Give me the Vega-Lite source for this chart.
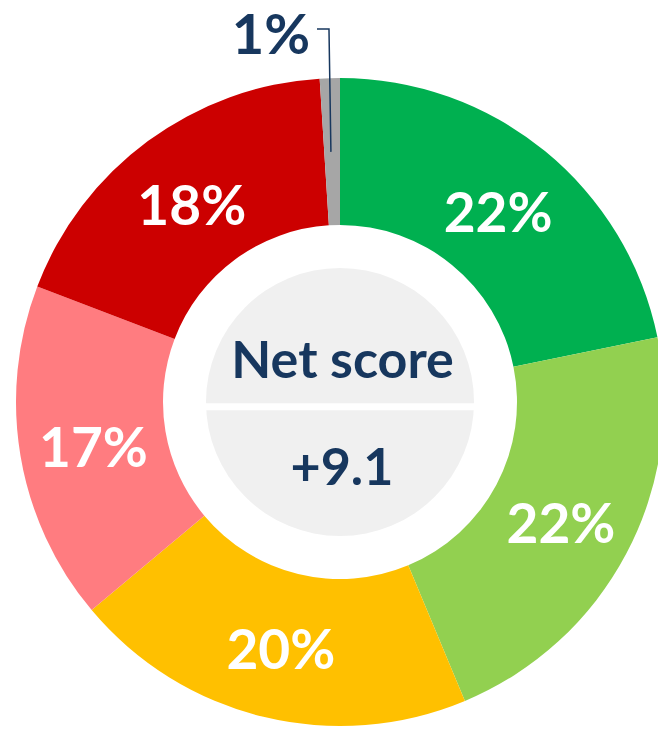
{
  "$schema": "https://vega.github.io/schema/vega-lite/v6.json",
  "autosize": "none",
  "width": 636,
  "height": 660,
  "padding": {"left": 22, "top": 72, "right": 0, "bottom": 0},
  "background": "white",
  "config": {"view": {"stroke": null}},
  "datasets": {
    "slices": [
      {"cat": "Very positive", "value": 21.8, "label": "22%", "ord": 1},
      {"cat": "Positive", "value": 21.9, "label": "22%", "ord": 2},
      {"cat": "Neutral", "value": 20.2, "label": "20%", "ord": 3},
      {"cat": "Negative", "value": 16.9, "label": "17%", "ord": 4},
      {"cat": "Very negative", "value": 18.2, "label": "18%", "ord": 5},
      {"cat": "Don't know", "value": 1.0, "label": "1%", "ord": 6}
    ],
    "leader": [
      {"x": -0.071, "y": 1.151, "o": 1},
      {"x": -0.034, "y": 1.151, "o": 2},
      {"x": -0.028, "y": 0.772, "o": 3}
    ],
    "center": [{"x": 0, "y": 0}],
    "divider": [{"x": -0.414, "x2": 0.414, "y": -0.015}],
    "texts": [
      {"x": 0.008, "y": 0.074, "text": "Net score"},
      {"x": 0.006, "y": -0.256, "text": "+9.1"}
    ],
    "toplabel": [
      {"x": -0.213, "y": 1.074, "text": "1%"}
    ]
  },
  "layer": [
    {
      "data": {"name": "slices"},
      "mark": {"type": "arc", "innerRadius": 177, "outerRadius": 324},
      "encoding": {
        "theta": {"field": "value", "type": "quantitative", "stack": true},
        "order": {"field": "ord", "type": "quantitative"},
        "color": {
          "field": "cat", "type": "nominal", "legend": null,
          "scale": {
            "domain": ["Very positive", "Positive", "Neutral", "Negative", "Very negative", "Don't know"],
            "range": ["#00B050", "#92D050", "#FFC000", "#FF7C80", "#CC0000", "#A6A6A6"]
          }
        }
      }
    },
    {
      "data": {"name": "slices"},
      "mark": {"type": "text", "radius": 250, "dy": 7, "font": "Lato", "fontWeight": "bold", "fontSize": 55, "color": "white", "baseline": "middle", "align": "center"},
      "encoding": {
        "theta": {"field": "value", "type": "quantitative", "stack": true},
        "order": {"field": "ord", "type": "quantitative"},
        "text": {"condition": {"test": "datum.cat === \"Don't know\"", "value": ""}, "field": "label", "type": "nominal"}
      }
    },
    {
      "data": {"name": "center"},
      "mark": {"type": "point", "shape": "circle", "filled": true, "size": 71824, "color": "#F0F0F0", "opacity": 1},
      "encoding": {
        "x": {"field": "x", "type": "quantitative", "axis": null, "scale": {"domain": [-0.98148, 0.98148], "nice": false, "zero": false}},
        "y": {"field": "y", "type": "quantitative", "axis": null, "scale": {"domain": [-1.01852, 1.01852], "nice": false, "zero": false}}
      }
    },
    {
      "data": {"name": "divider"},
      "mark": {"type": "rule", "color": "white", "strokeWidth": 7},
      "encoding": {
        "x": {"field": "x", "type": "quantitative"},
        "x2": {"field": "x2"},
        "y": {"field": "y", "type": "quantitative"}
      }
    },
    {
      "data": {"name": "leader"},
      "mark": {"type": "line", "color": "#17375E", "strokeWidth": 1.5},
      "encoding": {
        "x": {"field": "x", "type": "quantitative"},
        "y": {"field": "y", "type": "quantitative"},
        "order": {"field": "o", "type": "quantitative"}
      }
    },
    {
      "data": {"name": "texts"},
      "mark": {"type": "text", "font": "Lato", "fontWeight": "bold", "fontSize": 52, "color": "#17375E", "baseline": "alphabetic", "align": "center"},
      "encoding": {
        "x": {"field": "x", "type": "quantitative"},
        "y": {"field": "y", "type": "quantitative"},
        "text": {"field": "text", "type": "nominal"}
      }
    },
    {
      "data": {"name": "toplabel"},
      "mark": {"type": "text", "font": "Lato", "fontWeight": "bold", "fontSize": 56, "color": "#17375E", "baseline": "alphabetic", "align": "center"},
      "encoding": {
        "x": {"field": "x", "type": "quantitative"},
        "y": {"field": "y", "type": "quantitative"},
        "text": {"field": "text", "type": "nominal"}
      }
    }
  ]
}
